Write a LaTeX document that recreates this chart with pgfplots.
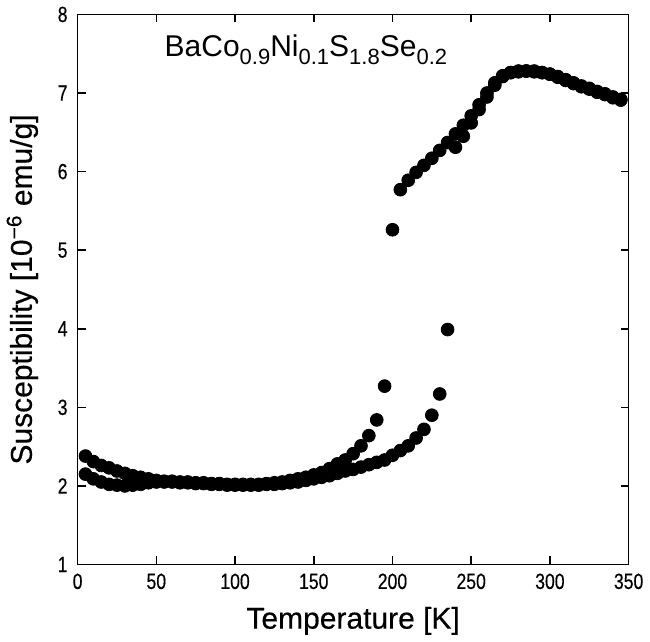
\documentclass[border=0pt]{standalone}
\usepackage{fontspec}
\setmainfont{Liberation Sans}
\usepackage{pgfplots}
\pgfplotsset{compat=1.18}

\newcommand{\sub}[1]{\raisebox{-0.28em}{\fontsize{11}{12}\selectfont #1}}

% cooling run: jump near 200 K
\pgfplotstableread{
T chi
5 2.38
10 2.31
15 2.26
20 2.23
25 2.19
30 2.16
35 2.13
40 2.11
45 2.09
50 2.07
55 2.06
60 2.06
65 2.05
70 2.05
75 2.04
80 2.04
85 2.03
90 2.03
95 2.02
100 2.02
105 2.02
110 2.02
115 2.02
120 2.03
125 2.04
130 2.05
135 2.07
140 2.09
145 2.11
150 2.14
155 2.17
160 2.22
165 2.28
170 2.33
175 2.41
180 2.51
185 2.64
190 2.84
195 3.27
200 5.26
205 5.77
210 5.89
215 5.99
220 6.08
225 6.17
230 6.27
235 6.37
240 6.48
245 6.59
250 6.71
255 6.85
260 7.00
265 7.13
270 7.22
275 7.26
280 7.28
285 7.28
290 7.28
295 7.26
300 7.24
305 7.21
310 7.17
315 7.13
320 7.09
325 7.06
330 7.02
335 6.99
340 6.95
345 6.92
}\cooling

% warming run: jump near 235 K
\pgfplotstableread{
T chi
5 2.15
10 2.09
15 2.05
20 2.02
25 2.01
30 2.00
35 2.01
40 2.02
45 2.04
50 2.05
55 2.05
60 2.05
65 2.04
70 2.04
75 2.03
80 2.03
85 2.02
90 2.02
95 2.01
100 2.01
105 2.01
110 2.01
115 2.01
120 2.02
125 2.02
130 2.03
135 2.04
140 2.05
145 2.07
150 2.09
155 2.11
160 2.13
165 2.16
170 2.19
175 2.21
180 2.24
185 2.27
190 2.30
195 2.33
200 2.39
205 2.45
210 2.51
215 2.61
220 2.72
225 2.90
230 3.17
235 3.99
240 6.31
245 6.45
250 6.62
255 6.79
260 6.95
265 7.10
270 7.21
275 7.26
280 7.27
285 7.28
290 7.27
295 7.26
300 7.24
305 7.20
310 7.16
315 7.12
320 7.08
325 7.05
330 7.01
335 6.98
340 6.94
345 6.91
}\warming

\begin{document}
\begin{tikzpicture}
\begin{axis}[
  scale only axis,
  width=275.5pt, height=275pt,
  xmin=0, xmax=350, ymin=1, ymax=8,
  xtick={0,50,...,350}, ytick={1,2,...,8},
  tick align=inside, tick pos=both,
  major tick length=4pt,
  axis line style={line width=0.75pt},
  every tick/.style={black, line width=0.75pt},
  /pgf/number format/assume math mode=true,
  tick label style={font=\fontsize{11}{12}\selectfont\addfontfeatures{FakeStretch=0.8,FakeBold=0.4}},
  xticklabel style={yshift=-1pt},
  yticklabel style={xshift=-1.5pt},
  label style={font=\fontsize{15}{17}\selectfont\addfontfeatures{FakeBold=0.4}},
  xlabel={Temperature [K]},
  ylabel={Susceptibility [10\textsuperscript{−6} emu/g]},
  xlabel style={yshift=-2pt},
  ylabel style={yshift=3pt},
]
\addplot[only marks, mark=*, mark size=3.2pt, black] table[x=T, y=chi] {\cooling};
\addplot[only marks, mark=*, mark size=3.2pt, black] table[x=T, y=chi] {\warming};
\node[font=\fontsize{15}{17}\selectfont] at (axis cs:145,7.55)
  {BaCo\sub{0.9}Ni\sub{0.1}S\sub{1.8}Se\sub{0.2}};
\end{axis}
\end{tikzpicture}
\end{document}
